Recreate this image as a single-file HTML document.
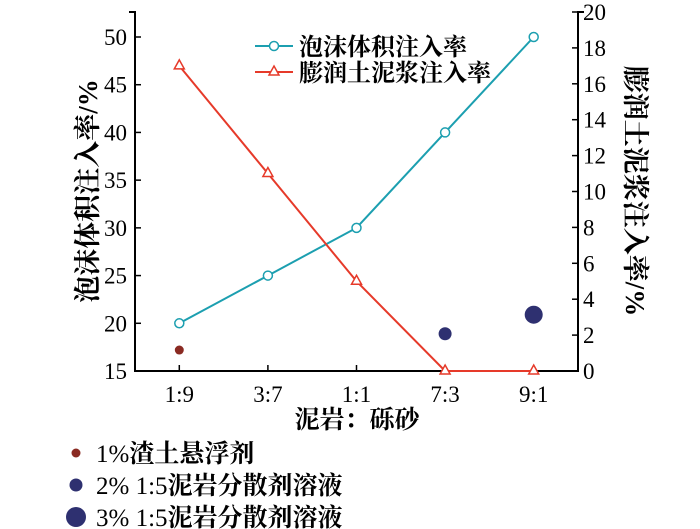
<!DOCTYPE html>
<html><head><meta charset="utf-8"><style>
body{margin:0;background:#fff;}
svg{display:block;font-family:"Liberation Serif","Noto Serif CJK SC",serif;}
</style></head><body>
<svg id="c" width="700" height="529" viewBox="0 0 700 529"></svg>
<script>
const categories=["1:9","3:7","1:1","7:3","9:1"];
const foamValues=[20,25,30,40,50];
const bentoniteValues=[17,11,5,0,0];
const leftTicks=[15,20,25,30,35,40,45,50];
const rightTicks=[0,2,4,6,8,10,12,14,16,18,20];
const dotCats=[0,3,4];
const dotValues=[17.2,18.9,20.9];
const dotPrefix=["1%","2% 1:5","3% 1:5"];
const dotLabels=["渣土悬浮剂","泥岩分散剂溶液","泥岩分散剂溶液"];
const NS="http://www.w3.org/2000/svg";
const svg=document.getElementById('c');
const L=135,R=578,T=12,B=371;
const x=i=>L+(R-L)*(i+0.5)/categories.length;
const yL=v=>B-(v-15)*(B-37)/35;
const yR=v=>B-v*(B-12)/20;
function el(t,a,p){const e=document.createElementNS(NS,t);for(const k in a)e.setAttribute(k,a[k]);(p||svg).appendChild(e);return e;}
function txt(s,a){const e=el('text',a);e.textContent=s;return e;}
let e;
e=el('path',{d:`M${L-6},${T}H${L}V${B}H${R}V${T}H${R+6}`,fill:'none',stroke:'#000','stroke-width':2});

leftTicks.forEach(v=>{el('line',{x1:L,x2:L+6,y1:yL(v),y2:yL(v),stroke:'#000','stroke-width':1.5});
 e=txt(v,{x:L-8,y:yL(v)+8,'text-anchor':'end','font-size':23});
 });
rightTicks.forEach(v=>{el('line',{x1:R-6,x2:R,y1:yR(v),y2:yR(v),stroke:'#000','stroke-width':1.5});
 e=txt(v,{x:R+5,y:yR(v)+8,'font-size':23});
 });
categories.forEach((c,i)=>{el('line',{x1:x(i),x2:x(i),y1:B,y2:B-6,stroke:'#000','stroke-width':1.5});
 e=txt(c,{x:x(i),y:B+31,'text-anchor':'middle','font-size':23});
 });
e=txt('泥岩：砾砂',{x:357,y:428,'text-anchor':'middle','font-size':25,'font-weight':'bold'});

e=txt('泡沫体积注入率/%',{x:0,y:0,'text-anchor':'middle','font-size':27,'font-weight':'bold',transform:`translate(97,191) rotate(-90)`});

e=txt('膨润土泥浆注入率/%',{x:0,y:0,'text-anchor':'middle','font-size':27,'font-weight':'bold',transform:`translate(626,191) rotate(90)`});

const teal='#1c9fb0',red='#e63a2a';
e=el('polyline',{points:foamValues.map((v,i)=>x(i)+','+yL(v)).join(' '),fill:'none',stroke:teal,'stroke-width':2});

e=el('polyline',{points:bentoniteValues.map((v,i)=>x(i)+','+yR(v)).join(' '),fill:'none',stroke:red,'stroke-width':2});

foamValues.forEach((v,i)=>{e=el('circle',{cx:x(i),cy:yL(v),r:4.5,fill:'#fff',stroke:teal,'stroke-width':1.5});
 });
bentoniteValues.forEach((v,i)=>{const cx=x(i),cy=yR(v);
 e=el('path',{d:`M${cx},${cy-6}L${cx+5},${cy+3}L${cx-5},${cy+3}Z`,fill:'#fff',stroke:red,'stroke-width':1.5});
 });
const dotColors=['#8a2a22','#2e3070','#2e3070'],dotR=[4.5,6.5,9];
dotValues.forEach((v,k)=>{e=el('circle',{cx:x(dotCats[k]),cy:yL(v),r:dotR[k],fill:dotColors[k]});
 });
[[teal,'泡沫体积注入率',0],[red,'膨润土泥浆注入率',1]].forEach(([c,s,k])=>{const y=46+k*26,x0=255;
 el('line',{x1:x0,x2:x0+38,y1:y,y2:y,stroke:c,'stroke-width':2});
 if(k==0)el('circle',{cx:x0+19,cy:y,r:4.5,fill:'#fff',stroke:c,'stroke-width':1.5});
 else el('path',{d:`M${x0+19},${y-6}L${x0+24},${y+3}L${x0+14},${y+3}Z`,fill:'#fff',stroke:c,'stroke-width':1.5});
 e=txt(s,{x:x0+44,y:y+9,'font-size':24,'font-weight':'bold'});
 });
dotLabels.forEach((s,k)=>{const y=453+k*32;
 el('circle',{cx:76,cy:y,r:dotR[k]+(k==2?1:0),fill:dotColors[k]});
 e=el('text',{x:96,y:y+9,'font-size':25});
 
 el('tspan',{},e).textContent=dotPrefix[k];
 el('tspan',{'font-weight':'bold'},e).textContent=s;});
</script>
</body></html>
